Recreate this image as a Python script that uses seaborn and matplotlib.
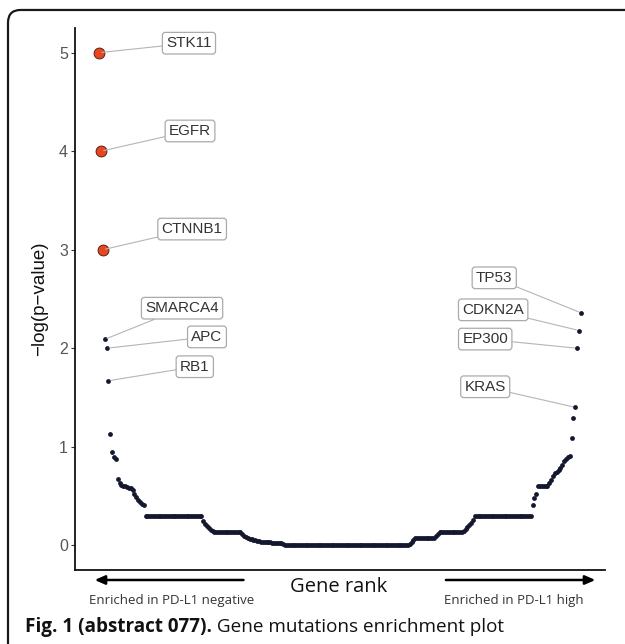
import numpy as np
import pandas as pd
import seaborn as sns
import matplotlib.pyplot as plt
from matplotlib.patches import FancyBboxPatch

sns.set_theme(style='white')
plt.rcParams['font.family'] = ['Liberation Sans', 'DejaVu Sans']

# -log(p-value) along gene rank, read as plateaus: level and number of genes at that level
levels = [5.0, 4.0, 3.0, 2.09, 2.0, 1.67, 1.13, 0.95, 0.90, 0.88,
          0.67, 0.63, 0.61, 0.60, 0.59, 0.58, 0.56, 0.52, 0.49, 0.46, 0.44, 0.42, 0.41,
          0.30,
          0.25, 0.22, 0.20, 0.18, 0.16, 0.15, 0.14,
          0.13,
          0.11, 0.09, 0.08, 0.07, 0.06, 0.05, 0.04,
          0.03, 0.02, 0.01,
          0.0,
          0.01, 0.03, 0.05,
          0.07,
          0.09, 0.11,
          0.13,
          0.15, 0.17, 0.19, 0.21, 0.23, 0.26,
          0.30,
          0.41, 0.48, 0.52,
          0.60,
          0.63, 0.66, 0.70, 0.73, 0.74, 0.76, 0.78, 0.82, 0.86, 0.88, 0.90, 0.91,
          1.09, 1.29, 1.40, 2.0, 2.18, 2.36]
counts = [1, 1, 1, 1, 1, 1, 1, 1, 1, 1,
          1, 1, 1, 2, 1, 2, 1, 1, 1, 1, 1, 1, 1,
          31,
          1, 1, 1, 1, 1, 1, 1,
          14,
          1, 1, 1, 1, 2, 2, 2,
          6, 6, 1,
          67,
          1, 1, 1,
          11,
          1, 1,
          13,
          1, 1, 1, 1, 1, 1,
          31,
          1, 1, 1,
          6,
          1, 1, 1, 1, 1, 1, 1, 1, 1, 1, 1, 1,
          1, 1, 1, 1, 1, 1]

neglogp = np.repeat(levels, counts)
n = len(neglogp)
rank = np.arange(1, n + 1)
df = pd.DataFrame({'rank': rank, 'neglogp': neglogp})
df['top'] = df['neglogp'] >= 3

label_genes = ['STK11', 'EGFR', 'CTNNB1', 'SMARCA4', 'APC', 'RB1',
               'KRAS', 'EP300', 'CDKN2A', 'TP53']
label_ranks = [1, 2, 3, 4, 5, 6, n - 3, n - 2, n - 1, n]
# label box centres (axes fraction)
label_pos = [(0.215, 0.972), (0.217, 0.810), (0.221, 0.629), (0.202, 0.483),
             (0.249, 0.430), (0.226, 0.375), (0.774, 0.338), (0.774, 0.426),
             (0.789, 0.480), (0.791, 0.539)]

fig = plt.figure(figsize=(6.25, 6.44), dpi=100)
ax = fig.add_axes([0.12, 0.115, 0.848, 0.8415])

sns.scatterplot(data=df[~df['top']], x='rank', y='neglogp', color='#14182e',
                s=12, linewidth=0, ax=ax)
sns.scatterplot(data=df[df['top']], x='rank', y='neglogp', color='#e8461f',
                s=62, edgecolor='#3a1a10', linewidth=0.6, ax=ax, zorder=3)

for g, r, (tx, ty) in zip(label_genes, label_ranks, label_pos):
    ax.annotate(g, xy=(r, neglogp[r - 1]), xytext=(tx, ty), textcoords='axes fraction',
                ha='center', va='center', fontsize=11, color='#333333',
                bbox=dict(boxstyle='round,pad=0.25,rounding_size=0.2', fc='white',
                          ec='#aaaaaa', lw=0.9),
                arrowprops=dict(arrowstyle='-', color='#b5b5b5', lw=0.8,
                                shrinkA=0, shrinkB=2))

pad = 0.05 * (n - 1)
ax.set_xlim(1 - pad, n + pad)
ax.set_ylim(-0.25, 5.25)
ax.set_yticks(range(6))
ax.set_xticks([])
ax.set_xlabel('')
ax.set_ylabel('\u2212log(p\u2212value)', fontsize=13.5, color='#111111', labelpad=8)
ax.tick_params(axis='y', length=3, width=0.8, color='#333333', labelcolor='#555555',
               labelsize=11.5, left=True, pad=2)
for side in ['top', 'right']:
    ax.spines[side].set_visible(False)
for side in ['left', 'bottom']:
    ax.spines[side].set_color('#111111')
    ax.spines[side].set_linewidth(1.3)

# direction arrows and captions below the axis
arrow_kw = dict(arrowstyle='-|>,head_length=0.5,head_width=0.22', color='black', lw=1.8)
ax.annotate('', xy=(0.147, 0.0994), xytext=(0.394, 0.0994), xycoords='figure fraction',
            textcoords='figure fraction', arrowprops=arrow_kw, annotation_clip=False)
ax.annotate('', xy=(0.957, 0.0994), xytext=(0.709, 0.0994), xycoords='figure fraction',
            textcoords='figure fraction', arrowprops=arrow_kw, annotation_clip=False)
fig.text(0.541, 0.0885, 'Gene rank', ha='center', va='center', fontsize=14.5,
         family='Open Sans', color='#111111')
fig.text(0.274, 0.0683, 'Enriched in PD-L1 negative', ha='center', va='center',
         fontsize=9.5, family='Open Sans', color='#333333')
fig.text(0.822, 0.0683, 'Enriched in PD-L1 high', ha='center', va='center',
         fontsize=9.5, family='Open Sans', color='#333333')

t1 = fig.text(0.04, 0.0264, 'Fig. 1 (abstract 077).', ha='left', va='center',
              fontsize=13.6, family='Open Sans', weight='bold', color='#111111')
ax.annotate(' Gene mutations enrichment plot', xy=(1, 0.5), xycoords=t1,
            ha='left', va='center', fontsize=13.6, family='Open Sans', color='#111111',
            annotation_clip=False)

border = FancyBboxPatch((8 / 625, -0.1), 1.2, 0.9845 + 0.1,
                        boxstyle='round,pad=0,rounding_size=0.02',
                        transform=fig.transFigure, fc='none', ec='#1a1a1a', lw=1.6)
fig.patches.append(border)

fig.savefig('out.png', dpi=100)
